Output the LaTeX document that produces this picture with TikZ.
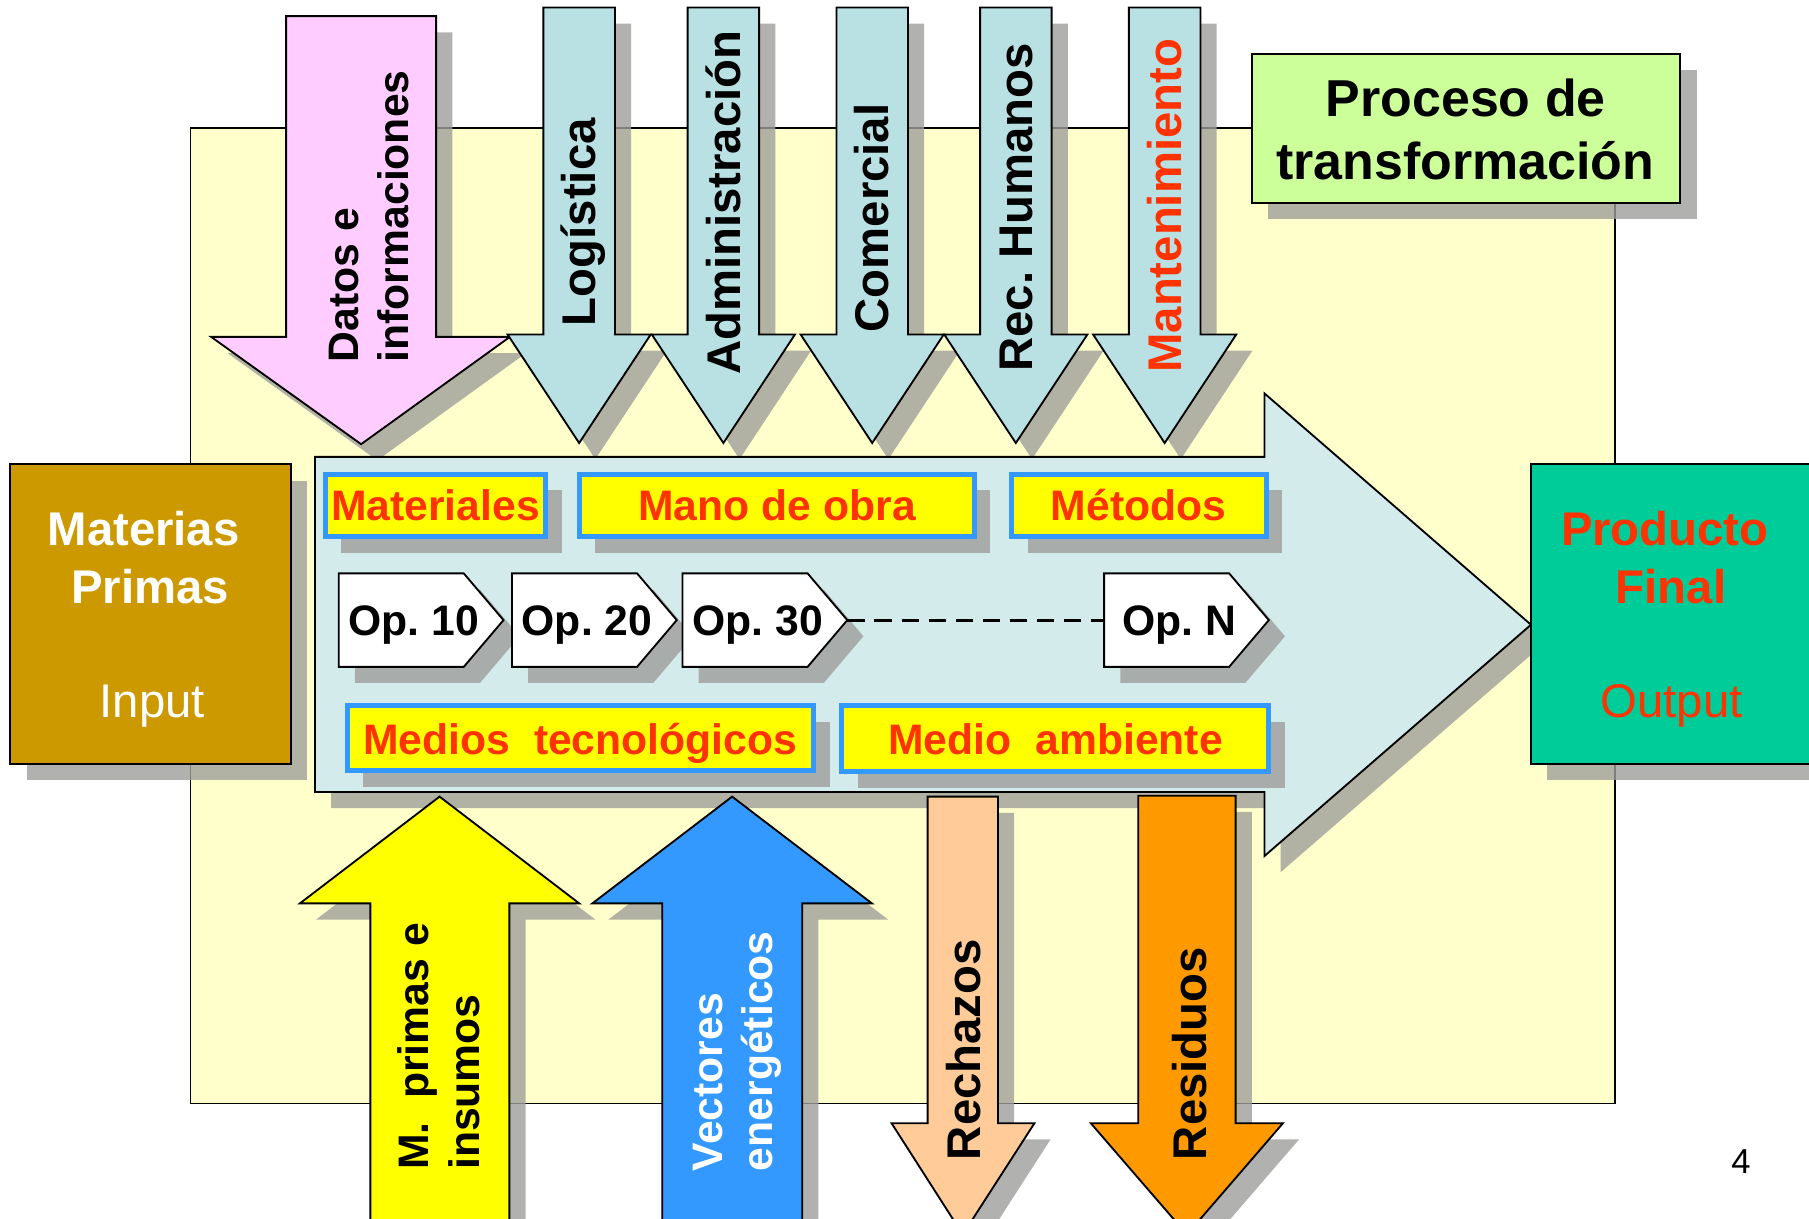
\documentclass[tikz,border=0pt]{standalone}
\usepackage{fontspec}
\setmainfont{Liberation Sans}
\usetikzlibrary{shadows}
\definecolor{bgyellow}{RGB}{255,255,204}
\definecolor{procgreen}{RGB}{204,255,153}
\definecolor{pinkarr}{RGB}{255,204,255}
\definecolor{bluearr}{RGB}{185,224,227}
\definecolor{procblue}{RGB}{212,235,236}
\definecolor{goldbox}{RGB}{204,153,0}
\definecolor{prodgreen}{RGB}{0,204,153}
\definecolor{redtxt}{RGB}{255,51,0}
\definecolor{boxyellow}{RGB}{255,255,0}
\definecolor{boxblue}{RGB}{51,153,255}
\definecolor{peach}{RGB}{255,204,153}
\definecolor{orangearr}{RGB}{255,153,0}
\definecolor{shadowgray}{RGB}{158,158,155}
\tikzset{
  shd/.style={drop shadow={shadow xshift=14pt, shadow yshift=-14pt, fill=shadowgray, opacity=0.8}},
  blk/.style={draw=black, line width=1.6pt, line join=miter, shd},
  ibox/.style={draw=boxblue, line width=4.5pt, fill=boxyellow, shd},
  opbox/.style={draw=black, line width=1.6pt, fill=white, shd},
  txt/.style={inner sep=0pt, outer sep=0pt},
  big/.style={txt, font=\bfseries\fontsize{41}{49}\selectfont},
  bigr/.style={txt, font=\fontsize{41}{49}\selectfont},
  mid/.style={txt, font=\bfseries\fontsize{37}{44}\selectfont},
  huge/.style={txt, font=\bfseries\fontsize{45}{54}\selectfont},
  up/.style={rotate=90, anchor=base west},
}
\begin{document}
\begin{tikzpicture}[x=1pt,y=-1pt]
\useasboundingbox (0,0) rectangle (1568,1056);
\clip (0,0) rectangle (1568,1056);
\fill[white] (0,0) rectangle (1568,1056);

% background process area
\draw[fill=bgyellow, draw=black, line width=1.4pt] (165,111) rectangle (1400,956.5);

% title box
\draw[blk, fill=procgreen] (1085,46.5) rectangle (1456.5,176);
\node[huge, anchor=base] (t1) at (1270.5,101) {Proceso de};
\node[huge, anchor=base] (t2) at (1270,156) {transformación};

% top arrows
\draw[blk, fill=pinkarr] (248,14) -- (378,14) -- (378,292) -- (442,292) -- (313,385) -- (183,292) -- (248,292) -- cycle;
\foreach \cx in {502,627,756,880.5,1009.5} {
  \draw[blk, fill=bluearr] (\cx-31,6.5) -- (\cx+31,6.5) -- (\cx+31,290) -- (\cx+62,290) -- (\cx,384) -- (\cx-62,290) -- (\cx-31,290) -- cycle;
}

% input box
\draw[blk, fill=goldbox] (9,402.5) rectangle (252,662);
\node[big, anchor=base, text=white] (mp1) at (124.5,473) {Materias};
\node[big, anchor=base, text=white] (mp2) at (130,523) {Primas};
\node[bigr, anchor=base, text=white] (mp3) at (132,622) {Input};

% process arrow
\draw[blk, fill=procblue] (273,396) -- (1096,396) -- (1096,341) -- (1327,541.5) -- (1096,742) -- (1096,686.5) -- (273,686.5) -- cycle;

% output box
\draw[blk, fill=prodgreen] (1327,402.5) rectangle (1590,662.5);
\node[big, anchor=base, text=redtxt] (pf1) at (1443,473) {Producto};
\node[big, anchor=base, text=redtxt] (pf2) at (1448.4,523) {Final};
\node[bigr, anchor=base, text=redtxt] (pf3) at (1449,622) {Output};

% resource boxes
\draw[ibox] (282,411) rectangle (473,465);
\node[mid, anchor=base, text=redtxt] (rmat) at (377.5,451.5) {Materiales};
\draw[ibox] (502,411) rectangle (844.5,465);
\node[mid, anchor=base, text=redtxt] (rmano) at (673.5,451.5) {Mano de obra};
\draw[ibox] (877,411) rectangle (1097.5,465);
\node[mid, anchor=base, text=redtxt] (rmet) at (987,451.5) {Métodos};
\draw[ibox] (301,611.5) rectangle (705,668);
\node[mid, anchor=base, text=redtxt] (rmed) at (503,654) {Medios\ \ tecnológicos};
\draw[ibox] (729.5,611.5) rectangle (1099.5,669);
\node[mid, anchor=base, text=redtxt] (ramb) at (915,654) {Medio\ \ ambiente};

% operations
\foreach \L/\t/\n in {293.6/10/op10, 443.8/20/op20, 591.6/30/op30, 957/N/opN} {
  \draw[opbox] (\L,497) -- (\L+108.4,497) -- (\L+142.8,537.5) -- (\L+108.4,578) -- (\L,578) -- cycle;
  \node[mid, anchor=base] (\n) at (\L+65,551) {Op.\ \t};
}
\coordinate (op30tip) at (734.4,537.5);
\coordinate (opNleft) at (957,537.5);
\draw[black, line width=2.6pt, dash pattern=on 15pt off 8.5pt] (op30tip) -- (opNleft);

% bottom arrows
\draw[blk, fill=boxyellow] (321,1080) -- (321,783) -- (260,783) -- (381,690.5) -- (502,783) -- (441.5,783) -- (441.5,1080) -- cycle;
\draw[blk, fill=boxblue] (574,1080) -- (574,783) -- (513.5,783) -- (634.6,690.5) -- (755.7,783) -- (695.3,783) -- (695.3,1080) -- cycle;
\draw[blk, fill=peach] (804,690.5) -- (865,690.5) -- (865,973.6) -- (896.6,973.6) -- (834.5,1070) -- (772.8,973.6) -- (804,973.6) -- cycle;
\draw[blk, fill=orangearr] (986.6,689.7) -- (1071,689.7) -- (1071,973.6) -- (1112,973.6) -- (1028.8,1070) -- (945.5,973.6) -- (986.6,973.6) -- cycle;

% vertical labels
\node[mid, up] (ld1) at (311,314) {Datos e};
\node[mid, up] (ld2) at (354,314) {informaciones};
\node[big, up] (llog) at (516.5,282.6) {Logística};
\node[big, up] (ladm) at (641.5,325) {Administración};
\node[big, up] (lcom) at (770.5,288) {Comercial};
\node[big, up] (lrec) at (895,322) {Rec.\ Humanos};
\node[big, up, text=redtxt] (lman) at (1024,323) {Mantenimiento};
\node[mid, up] (lmp1) at (371,1014) {M.\ \ primas e};
\node[mid, up] (lmp2) at (415.5,1014) {insumos};
\node[mid, up, text=white] (lve1) at (626,1015) {Vectores};
\node[mid, up, text=white] (lve2) at (670,1015) {energéticos};
\node[big, up] (lrech) at (849.5,1005.5) {Rechazos};
\node[big, up] (lres) at (1046,1005.5) {Residuos};

% page number
\node[txt, font=\fontsize{30}{36}\selectfont, anchor=base] (pg) at (1509,1017) {4};
\end{tikzpicture}
\end{document}
